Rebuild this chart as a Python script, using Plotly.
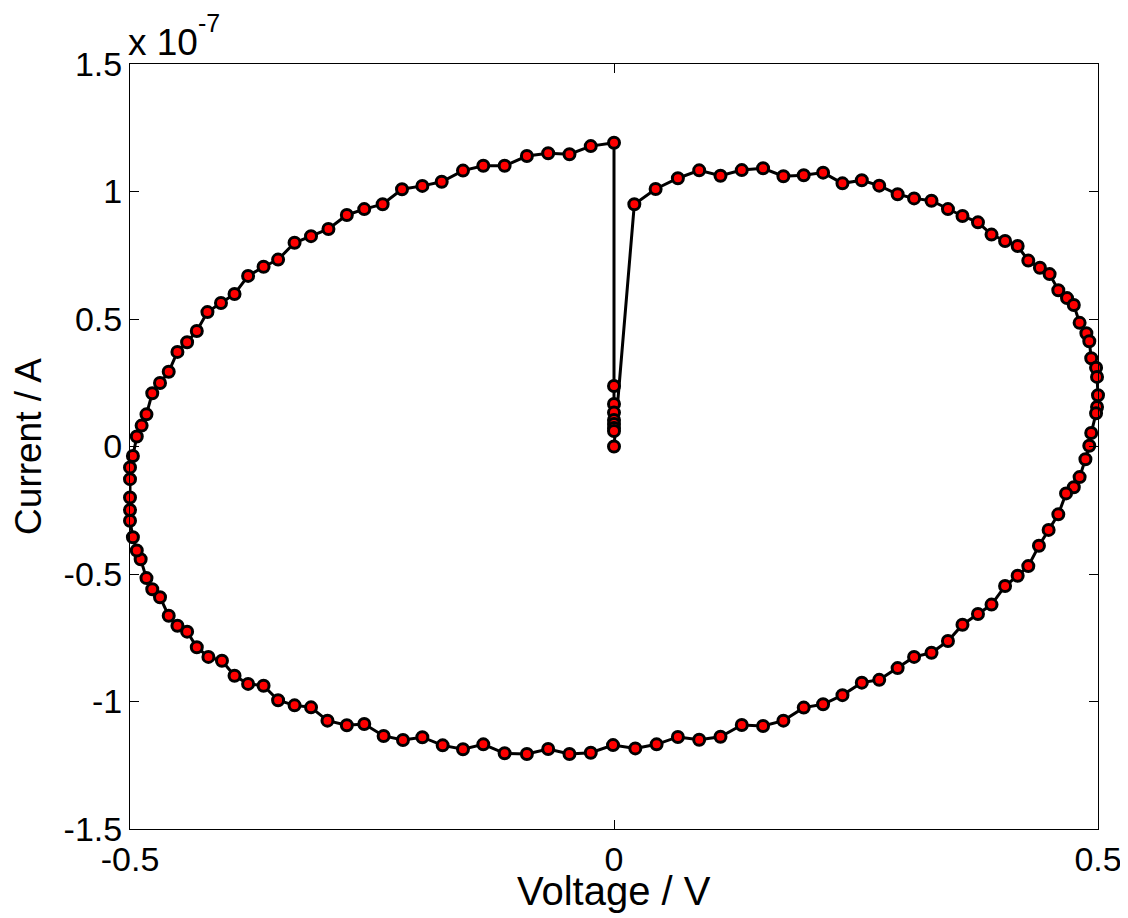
import numpy as np
import plotly.graph_objects as go

# Voltage (V) and current (in units of 1e-7 A)
voltage = [
    0.000,
    0.021, 0.043, 0.066, 0.088, 0.110, 0.132, 0.154, 0.175, 0.196, 0.216,
    0.236, 0.256, 0.274, 0.293, 0.310, 0.328, 0.345, 0.360, 0.376, 0.390,
    0.404, 0.417, 0.428, 0.440, 0.450, 0.459, 0.468, 0.475, 0.481, 0.488,
    0.491, 0.493, 0.498, 0.499, 0.500, 0.499, 0.498, 0.493, 0.491, 0.487,
    0.481, 0.475, 0.467, 0.459, 0.449, 0.439, 0.428, 0.417, 0.404, 0.390,
    0.376, 0.360, 0.345, 0.328, 0.310, 0.293, 0.274, 0.256, 0.236, 0.216,
    0.196, 0.175, 0.154, 0.132, 0.110, 0.088, 0.066, 0.044, 0.022, -0.001,
    -0.024, -0.046, -0.068, -0.090, -0.113, -0.135, -0.156, -0.177, -0.198, -0.218,
    -0.238, -0.258, -0.276, -0.296, -0.313, -0.330, -0.347, -0.362, -0.378, -0.392,
    -0.405, -0.419, -0.431, -0.441, -0.451, -0.460, -0.469, -0.477, -0.483, -0.489,
    -0.493, -0.497, -0.500, -0.500, -0.500, -0.500, -0.500, -0.497, -0.493, -0.488,
    -0.483, -0.477, -0.469, -0.460, -0.451, -0.441, -0.431, -0.420, -0.406, -0.392,
    -0.378, -0.362, -0.347, -0.330, -0.313, -0.295, -0.276, -0.258, -0.239, -0.219,
    -0.198, -0.178, -0.156, -0.135, -0.113, -0.090, -0.068, -0.046, -0.024, 0.000,
    0.000, 0.000, 0.000, 0.000, 0.000, 0.000, 0.000,
]
current_e7 = [
    0.000,
    0.950, 1.010, 1.052, 1.083, 1.062, 1.084, 1.091, 1.060, 1.064, 1.074,
    1.032, 1.044, 1.023, 0.989, 0.973, 0.964, 0.931, 0.904, 0.879, 0.831,
    0.806, 0.786, 0.729, 0.701, 0.676, 0.613, 0.582, 0.555, 0.485, 0.444,
    0.413, 0.346, 0.309, 0.273, 0.201, 0.155, 0.130, 0.053, 0.003, -0.050,
    -0.120, -0.160, -0.184, -0.266, -0.327, -0.389, -0.469, -0.507, -0.547, -0.620,
    -0.657, -0.699, -0.763, -0.809, -0.825, -0.869, -0.915, -0.926, -0.975, -1.011,
    -1.024, -1.075, -1.096, -1.092, -1.138, -1.150, -1.139, -1.168, -1.184, -1.171,
    -1.201, -1.206, -1.186, -1.206, -1.203, -1.168, -1.187, -1.172, -1.140, -1.151,
    -1.135, -1.088, -1.093, -1.075, -1.023, -1.015, -0.995, -0.938, -0.931, -0.899,
    -0.840, -0.825, -0.787, -0.726, -0.703, -0.664, -0.591, -0.560, -0.516, -0.442,
    -0.408, -0.356, -0.291, -0.249, -0.200, -0.128, -0.082, -0.037, 0.039, 0.082,
    0.126, 0.209, 0.249, 0.293, 0.371, 0.409, 0.453, 0.527, 0.563, 0.598,
    0.669, 0.705, 0.733, 0.799, 0.825, 0.853, 0.908, 0.931, 0.950, 1.009,
    1.022, 1.038, 1.082, 1.101, 1.101, 1.139, 1.150, 1.146, 1.178, 1.191,
    0.237, 0.167, 0.133, 0.104, 0.088, 0.073, 0.061,
]

x_tickvals = [-0.5, 0.0, 0.5]
x_ticktext = ["-0.5", "0", "0.5"]
y_tick_e7 = [-1.5, -1.0, -0.5, 0.0, 0.5, 1.0, 1.5]
y_ticktext = ["-1.5", "-1", "-0.5", "0", "0.5", "1", "1.5"]

scale = 1e-7
current = np.array(current_e7) * scale
y_tickvals = [v * scale for v in y_tick_e7]

FONT = "Liberation Sans, Arial, sans-serif"
TICK_SIZE = 34
TITLE_SIZE = 38

fig = go.Figure()
fig.add_trace(go.Scatter(
    x=voltage, y=current, mode="lines+markers",
    line=dict(color="black", width=3),
    marker=dict(size=11, color="#ff0000", line=dict(color="black", width=3)),
    cliponaxis=False, showlegend=False,
))

axis_common = dict(
    ticks="inside", ticklen=9, tickwidth=1, tickcolor="black",
    showline=True, linecolor="black", linewidth=1, mirror="ticks",
    showgrid=False, zeroline=False, automargin=False,
    tickfont=dict(family=FONT, size=TICK_SIZE, color="black"),
)

# The page body adds an 8px offset to the figure
fig.update_layout(
    width=1128, height=910,
    margin=dict(l=122, r=38, t=56, b=89),
    paper_bgcolor="white", plot_bgcolor="white",
    font=dict(family=FONT, size=TICK_SIZE, color="black"),
    xaxis=dict(range=[-0.5, 0.5], tickvals=x_tickvals, ticktext=x_ticktext,
               **axis_common),
    yaxis=dict(
        range=[-1.5 * scale, 1.5 * scale], tickvals=y_tickvals, ticktext=y_ticktext,
        title=dict(text="Current / A", standoff=12,
                   font=dict(family=FONT, size=TITLE_SIZE - 1, color="black")),
        **axis_common,
    ),
)

fig.add_annotation(
    text="Voltage / V", xref="paper", yref="paper", x=0.5, y=0,
    xanchor="center", yanchor="middle", showarrow=False, yshift=-62,
    font=dict(family=FONT, size=TITLE_SIZE + 2, color="black"),
)

# Axis exponent label "x 10^-7"
fig.add_annotation(
    text="x 10", xref="paper", yref="paper", x=0, y=1,
    xanchor="left", yanchor="middle", showarrow=False,
    font=dict(family=FONT, size=TITLE_SIZE - 1, color="black"), yshift=22, xshift=-4,
)
fig.add_annotation(
    text="-7", xref="paper", yref="paper", x=0, y=1,
    xanchor="center", yanchor="middle", showarrow=False,
    font=dict(family=FONT, size=25, color="black"), yshift=41, xshift=79,
)

fig.write_html("out.html")
